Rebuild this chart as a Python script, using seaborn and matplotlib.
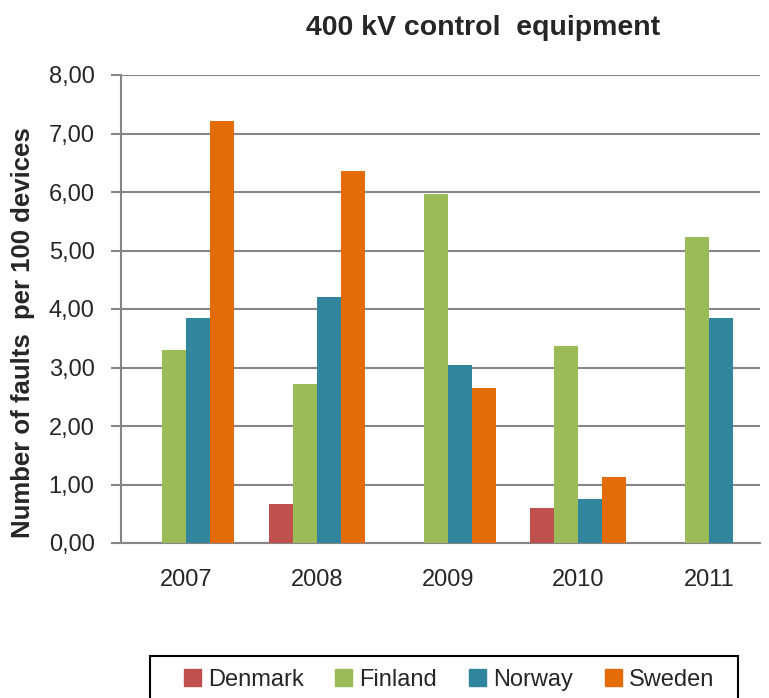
import pandas as pd
import matplotlib
matplotlib.use('Agg')
import matplotlib.pyplot as plt
import matplotlib.patches as mpatches
import seaborn as sns
from matplotlib.ticker import FuncFormatter

years = ['2007', '2008', '2009', '2010', '2011']
countries = ['Denmark', 'Finland', 'Norway', 'Sweden']
denmark = [0.0, 0.67, 0.0, 0.59, 0.0]
finland = [3.30, 2.71, 5.96, 3.36, 5.23]
norway = [3.84, 4.21, 3.05, 0.76, 3.84]
sweden = [7.21, 6.36, 2.65, 1.13, 0.0]
colors = ['#C0504D', '#9BBB59', '#31859C', '#E36C09']

# long format for seaborn
rows = []
for name, vals in zip(countries, [denmark, finland, norway, sweden]):
    for y, v in zip(years, vals):
        rows.append({'year': y, 'country': name, 'value': v})
df = pd.DataFrame(rows)

sns.set_style('white')
plt.rcParams['font.family'] = ['Liberation Sans', 'DejaVu Sans']

fig = plt.figure(figsize=(7.69, 6.98), dpi=100)
ax = fig.add_axes([121 / 769, 1 - 543 / 698, (760 - 121) / 769, (543 - 75) / 698])

sns.barplot(data=df, x='year', y='value', hue='country', hue_order=countries,
            palette=colors, width=0.735, linewidth=0, saturation=1,
            ax=ax, legend=False, zorder=3)

ax.set_ylim(0, 8)
ax.set_xlim(-0.5, 4.39)
ax.set_yticks(range(0, 9))
ax.yaxis.set_major_formatter(FuncFormatter(lambda v, p: f'{v:.2f}'.replace('.', ',')))
ax.grid(axis='y', color='#868686', linewidth=1.5, zorder=0)
ax.set_axisbelow(True)

for s in ['top', 'right']:
    ax.spines[s].set_visible(False)
for s in ['left', 'bottom']:
    ax.spines[s].set_color('#868686')
    ax.spines[s].set_linewidth(1.5)

ax.tick_params(axis='y', length=7, width=1.5, color='#868686', direction='out',
               labelsize=17, pad=12, left=True)
ax.tick_params(axis='x', length=0, labelsize=17, pad=19)

ax.set_xlabel('')
ax.set_ylabel('')
fig.text(23 / 769, 1 - 333 / 698, 'Number of faults  per 100 devices', rotation=90,
         ha='center', va='center', fontsize=18.5, fontweight='bold')
fig.text(483 / 769, 1 - 28 / 698, '400 kV control  equipment', ha='center', va='center',
         fontsize=20.5, fontweight='bold')

# legend frame drawn separately so the inner padding matches
frame = mpatches.Rectangle((150 / 769, 1 - 699 / 698), 588 / 769, 43 / 698,
                           transform=fig.transFigure, fill=False,
                           edgecolor='black', linewidth=1.5)
fig.patches.append(frame)

handles = [plt.Rectangle((0, 0), 1, 1, color=c) for c in colors]
leg = fig.legend(handles, countries, loc='upper left', ncol=4, mode='expand',
                 bbox_to_anchor=(184 / 769, 1 - 669 / 698 - 0.01, (714 - 184) / 769, 0.01),
                 frameon=False, fontsize=17,
                 handlelength=0.72, handleheight=0.7, handletextpad=0.3,
                 borderpad=0, borderaxespad=0)

fig.savefig('out.png', dpi=100)
